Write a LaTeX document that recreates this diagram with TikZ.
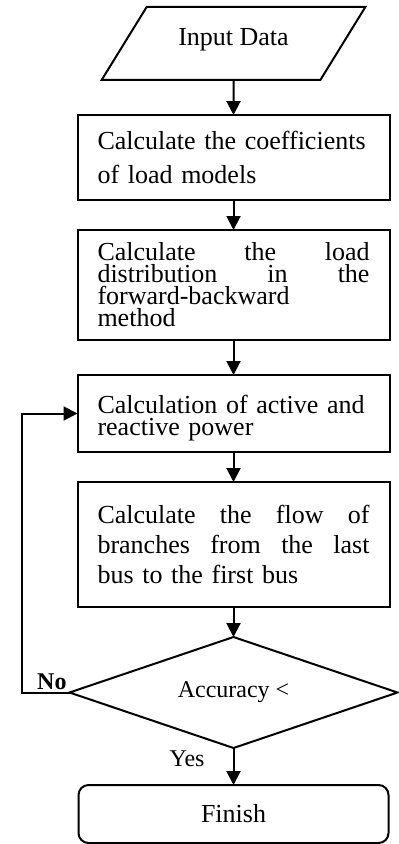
\documentclass[tikz,border=0pt]{standalone}
\usepackage{fontspec}
\setmainfont{Liberation Serif}
\usepackage{tikz}
\usetikzlibrary{positioning}
\usetikzlibrary{arrows.meta}
\usetikzlibrary{shapes,calc}
\newcommand{\tightfont}{\fontsize{13}{11}\selectfont\lineskiplimit=-10pt\relax}
\tikzset{process node/.style={rectangle,draw,line width=1pt,outer sep=0pt,minimum width=156pt,text width=136pt,inner xsep=10pt,inner ysep=0pt,align=left},
data node/.style={trapezium,draw,line width=1pt,outer sep=0pt,trapezium left angle=53.5,trapezium right angle=126.5,trapezium stretches=true,minimum width=132.5pt,minimum height=36.5pt,font=\fontsize{13}{15}\selectfont},
decision node/.style={diamond,draw,line width=1pt,outer sep=0pt,aspect=3,minimum width=164pt,minimum height=55.5pt,inner sep=0pt,font=\fontsize{12}{14}\selectfont},
end node/.style={rectangle,rounded corners=5pt,draw,line width=1pt,outer sep=0pt,minimum width=155pt,minimum height=29pt,font=\fontsize{13}{15}\selectfont},}

\begin{document}
\begin{tikzpicture}[->,>={Triangle[length=7pt,width=7pt]},node distance=15pt,line width=1pt]
    \useasboundingbox (0,0) rectangle (199pt,-422pt);
    \node[data node,text depth=6.5pt] (input) at (116.75pt,-21.75pt) {Input Data};
    \node[process node,minimum height=42.5pt,font=\fontsize{13}{17}\selectfont] (coef) [below=17.5pt of input] {Calculate the coefficients\\ of load models};
    \node[process node,minimum height=55pt,font=\tightfont] (dist) [below=of coef] {Calculate\hfill the\hfill load\\ distribution\hfill in\hfill the\\ forward-backward\\ method};
    \node[process node,minimum height=38.5pt,text depth=9pt,font=\tightfont] (power) [below=17.5pt of dist] {Calculation of active and\\ reactive power};
    \node[process node,minimum height=62.5pt,font=\fontsize{13}{15}\selectfont] (flow) [below=of power] {Calculate\hfill the\hfill flow\hfill of\\ branches\hfill from\hfill the\hfill last\\ bus to the first bus};
    \node[decision node] (acc) [below=of flow] {Accuracy <};
    \node[end node] (finish) [below=18.5pt of acc] {Finish};
    \node[font=\fontsize{12}{14}\selectfont\bfseries,inner sep=1pt,anchor=south east] (no) at (acc.west) {No};
    \node[font=\fontsize{12}{14}\selectfont,inner sep=0pt] (yes) [below left=1pt and 14pt of acc.south] {Yes};

    \path[draw]
    (input) edge (coef)
    (coef) edge (dist)
    (dist) edge (power)
    (power) edge (flow)
    (flow) edge (acc)
    (acc) edge (finish);
    \draw (acc.west) -- ++(-24pt,0) |- (power.west);
\end{tikzpicture}
\end{document}
